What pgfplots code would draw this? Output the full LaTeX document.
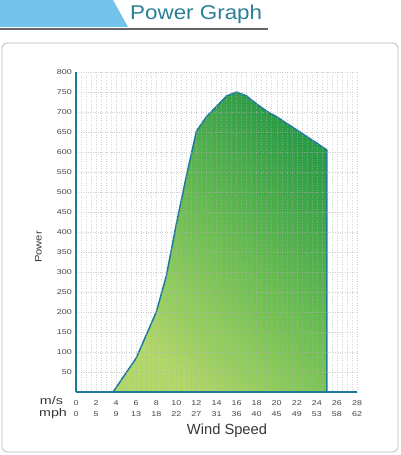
\documentclass[border=0pt]{standalone}
\usepackage{pgfplots}
\pgfplotsset{compat=1.18}
\usepackage{graphicx}
\usepackage{fontspec}
\setmainfont{Liberation Sans}
\newfontfamily\tickfont{Liberation Sans}[FakeStretch=1.28]
\newfontfamily\titlefont{Liberation Sans}[FakeStretch=1.12]
\definecolor{axteal}{HTML}{1C7B9C}
\definecolor{headblue}{HTML}{74C3EC}
\definecolor{titleteal}{HTML}{2B7F95}
\definecolor{gridgray}{HTML}{B0B0B0}
\definecolor{labelgray}{HTML}{444444}
\definecolor{lightgreen}{HTML}{B2D868}
\definecolor{midgreen}{HTML}{6DBE53}
\definecolor{darkgreen}{HTML}{2C9C46}
\pgfplotstableread{
x y
3.7 0
6 85
8 200
9 290
10 420
11 540
12 652
13 688
14 714
15 740
16 750
17 740
18 720
19 702
20 688
22 655
24 622
25 605
25 0
}\powercurve
\begin{document}
\begin{tikzpicture}[x=1pt,y=1pt]
\useasboundingbox (0,0) rectangle (400,455);
% frame
\draw[gray!55, rounded corners=5pt, line width=0.8pt] (2,3) rectangle (398,412);
% header
\fill[headblue] (0,455) -- (113,455) -- (128,428) -- (0,428) -- cycle;
\draw[gray!80!black, line width=1.8pt] (0,426) -- (268,426);
\node[anchor=base west, inner sep=0pt, text=titleteal, font=\titlefont\fontsize{20}{22}\selectfont] at (130,435) {Power Graph};
\begin{axis}[
  at={(76pt,63pt)}, anchor=south west,
  scale only axis, width=281pt, height=320pt,
  xmin=0, xmax=28, ymin=0, ymax=800,
  axis x line*=bottom, axis y line*=left,
  axis line style={draw=axteal, line width=1.6pt, -},
  axis on top,
  xtick={0,2,...,28}, ytick={50,100,...,800},
  minor x tick num=3,
  xmajorgrids, xminorgrids, ymajorgrids,
  grid style={gridgray, dotted, line width=0.4pt, opacity=0.6},
  minor grid style={gridgray, dotted, line width=0.4pt, opacity=0.5},
  major tick length=0pt, minor tick length=0pt,
  xticklabels={{0\\0},{2\\5},{4\\9},{6\\13},{8\\18},{10\\22},{12\\27},{14\\31},{16\\36},{18\\40},{20\\45},{22\\49},{24\\53},{26\\58},{28\\62}},
  xticklabel style={align=center, font=\tickfont\fontsize{7}{11.7}\selectfont, text=labelgray, anchor=north, inner sep=0pt, yshift=-8pt},
  yticklabel style={font=\tickfont\fontsize{7}{8}\selectfont, text=labelgray, inner sep=0pt, anchor=east, xshift=-4pt},
  /pgf/number format/assume math mode=true,
  clip=false,
]
\addplot[draw=axteal, line width=1.5pt, line join=round, top color=darkgreen, bottom color=lightgreen, middle color=midgreen, shading angle=-45] table[x=x, y=y] {\powercurve} -- cycle;
\end{axis}
% axis titles
\node[anchor=base, inner sep=0pt, font=\fontsize{11}{12}\selectfont, text=labelgray!80!black] at (51.5,50) {\scalebox{1.3}[1]{m/s}};
\node[anchor=base, inner sep=0pt, font=\fontsize{11}{12}\selectfont, text=labelgray!80!black] at (53,38.3) {\scalebox{1.3}[1]{mph}};
\node[anchor=base, inner sep=0pt, font=\fontsize{14.7}{16}\selectfont, text=labelgray!80!black] at (227,20) {Wind Speed};
\node[anchor=base, inner sep=0pt, rotate=90, font=\fontsize{9.5}{11}\selectfont, text=labelgray!80!black] at (41.7,208) {\scalebox{1.18}[1]{Power}};
\end{tikzpicture}
\end{document}
